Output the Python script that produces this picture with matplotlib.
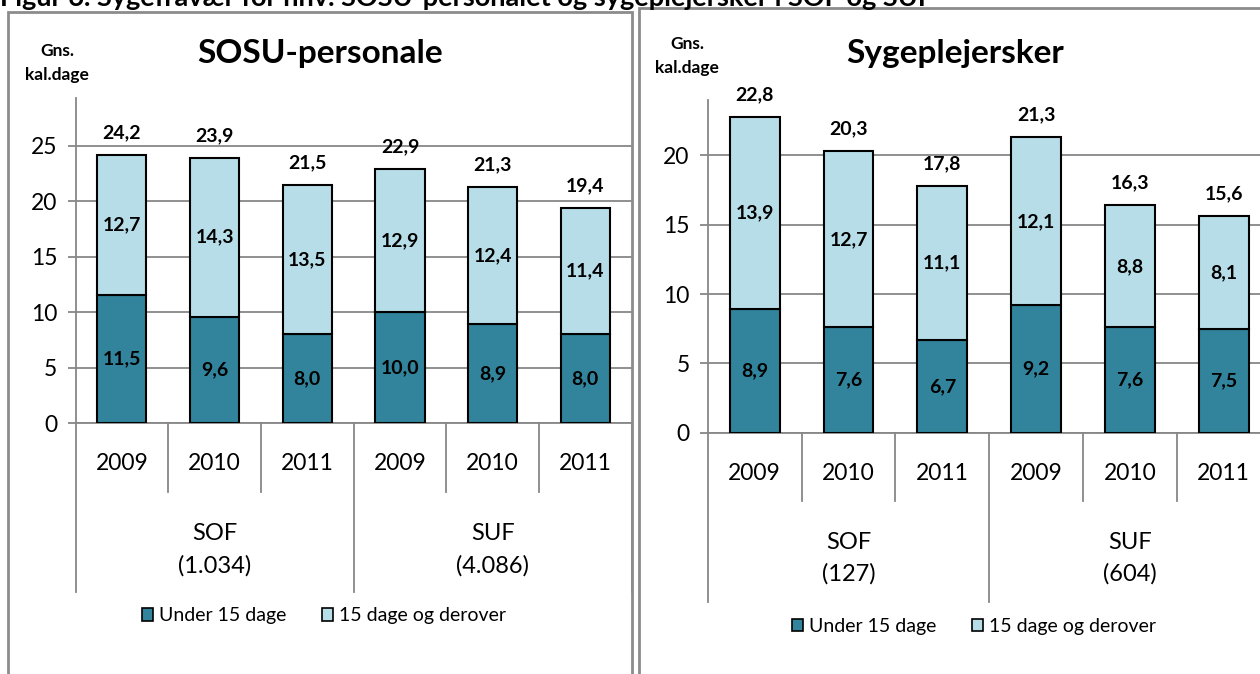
import matplotlib.pyplot as plt
from matplotlib.patches import Patch, Rectangle

plt.rcParams['font.family'] = ['Lato', 'DejaVu Sans']

years = ['2009', '2010', '2011', '2009', '2010', '2011']

# SOSU-personale
sosu_groups = ['SOF\n(1.034)', 'SUF\n(4.086)']
sosu_under = [11.5, 9.6, 8.0, 10.0, 8.9, 8.0]
sosu_over = [12.7, 14.3, 13.5, 12.9, 12.4, 11.4]
sosu_total = [24.2, 23.9, 21.5, 22.9, 21.3, 19.4]

# Sygeplejersker
syg_groups = ['SOF\n(127)', 'SUF\n(604)']
syg_under = [8.9, 7.6, 6.7, 9.2, 7.6, 7.5]
syg_over = [13.9, 12.7, 11.1, 12.1, 8.8, 8.1]
syg_total = [22.8, 20.3, 17.8, 21.3, 16.3, 15.6]

DARK = '#31849B'
LIGHT = '#B7DEE8'
GRID = '#878787'
W, H = 1260, 674


def fmt(v):
    return f'{v:.1f}'.replace('.', ',')


def px_axes(x0, x1, y_top, y_bot):
    return [x0 / W, 1 - y_bot / H, (x1 - x0) / W, (y_bot - y_top) / H]


def draw_panel(ax, under, over, total, groups, ymax, yticks, year_y, sep_in, sep_out, grp_y):
    x = range(len(years))
    ax.bar(x, under, width=0.53, color=DARK, edgecolor='black', linewidth=1.5, zorder=3)
    ax.bar(x, over, bottom=under, width=0.53, color=LIGHT, edgecolor='black', linewidth=1.5, zorder=3)
    for i in x:
        ax.text(i, under[i] / 2, fmt(under[i]), ha='center', va='center',
                fontsize=14, fontweight='bold', zorder=4)
        ax.text(i, under[i] + over[i] / 2, fmt(over[i]), ha='center', va='center',
                fontsize=14, fontweight='bold', zorder=4)
        ax.annotate(fmt(total[i]), (i, under[i] + over[i]), xytext=(0, 16),
                    textcoords='offset points', ha='center', va='center',
                    fontsize=14, fontweight='bold')
    ax.set_xlim(-0.5, 5.5)
    ax.set_ylim(0, ymax)
    ax.set_yticks(yticks)
    ax.set_xticks([])
    ax.yaxis.grid(True, color=GRID, linewidth=1.3)
    ax.set_axisbelow(True)
    ax.tick_params(axis='y', length=6, width=1.3, color=GRID, labelsize=16.5, pad=7)
    for s in ['top', 'right']:
        ax.spines[s].set_visible(False)
    for s in ['left', 'bottom']:
        ax.spines[s].set_color(GRID)
        ax.spines[s].set_linewidth(1.3)

    tr = ax.get_xaxis_transform()
    for i, yr in enumerate(years):
        ax.text(i, year_y, yr, transform=tr, ha='center', va='center', fontsize=16.5)
    for b in [0.5, 1.5, 3.5, 4.5]:
        ax.plot([b, b], [0, sep_in], transform=tr, color=GRID, lw=1.3, clip_on=False)
    for b in [-0.5, 2.5, 5.5]:
        ax.plot([b, b], [0, sep_out], transform=tr, color=GRID, lw=1.3, clip_on=False)
    for g, lab in enumerate(groups):
        ax.text(1 + 3 * g, grp_y, lab, transform=tr, ha='center', va='center',
                fontsize=17, linespacing=1.6)


fig = plt.figure(figsize=(12.6, 6.74), dpi=100)

# panel frames
fig.add_artist(Rectangle((8 / W, -0.1), (632 - 8) / W, 1.1 - 12 / H, transform=fig.transFigure,
                         fill=False, edgecolor='#8C8C8C', linewidth=2))
fig.add_artist(Rectangle((639 / W, -0.1), 0.6, 1.1 - 8 / H, transform=fig.transFigure,
                         fill=False, edgecolor='#8C8C8C', linewidth=2))

fig.text(0, 1 - 6 / H, 'Figur 6. Sygefravær for hhv. SOSU-personalet og sygeplejersker i SOF og SUF',
         ha='left', va='baseline', fontsize=19.5, fontweight='bold')

ax1 = fig.add_axes(px_axes(75.5, 631.7, 98, 423))
draw_panel(ax1, sosu_under, sosu_over, sosu_total, sosu_groups, 29.3, [0, 5, 10, 15, 20, 25],
           -0.126, -0.212, -0.52, -0.39)

ax2 = fig.add_axes(px_axes(707.8, 1270.6, 100, 432.7))
draw_panel(ax2, syg_under, syg_over, syg_total, syg_groups, 24.0, [0, 5, 10, 15, 20],
           -0.122, -0.205, -0.509, -0.377)

fig.text(320 / W, 1 - 53 / H, 'SOSU-personale', ha='center', va='center', fontsize=24, fontweight='bold')
fig.text(955 / W, 1 - 53 / H, 'Sygeplejersker', ha='center', va='center', fontsize=24, fontweight='bold')
fig.text(57 / W, 1 - 63 / H, 'Gns.\nkal.dage', ha='center', va='center', fontsize=12.5,
         fontweight='bold', linespacing=1.55)
fig.text(687 / W, 1 - 56 / H, 'Gns.\nkal.dage', ha='center', va='center', fontsize=12.5,
         fontweight='bold', linespacing=1.55)

handles = [Patch(facecolor=DARK, edgecolor='black', linewidth=1.2, label='Under 15 dage'),
           Patch(facecolor=LIGHT, edgecolor='black', linewidth=1.2, label='15 dage og derover')]
for cx, cy in [(324, 616), (974, 626.5)]:
    fig.legend(handles=handles, loc='center', bbox_to_anchor=(cx / W, 1 - cy / H), ncol=2,
               frameon=False, fontsize=14, handlelength=0.6, handleheight=0.6,
               handletextpad=0.3, columnspacing=1.8)

fig.savefig('out.png', dpi=100)
